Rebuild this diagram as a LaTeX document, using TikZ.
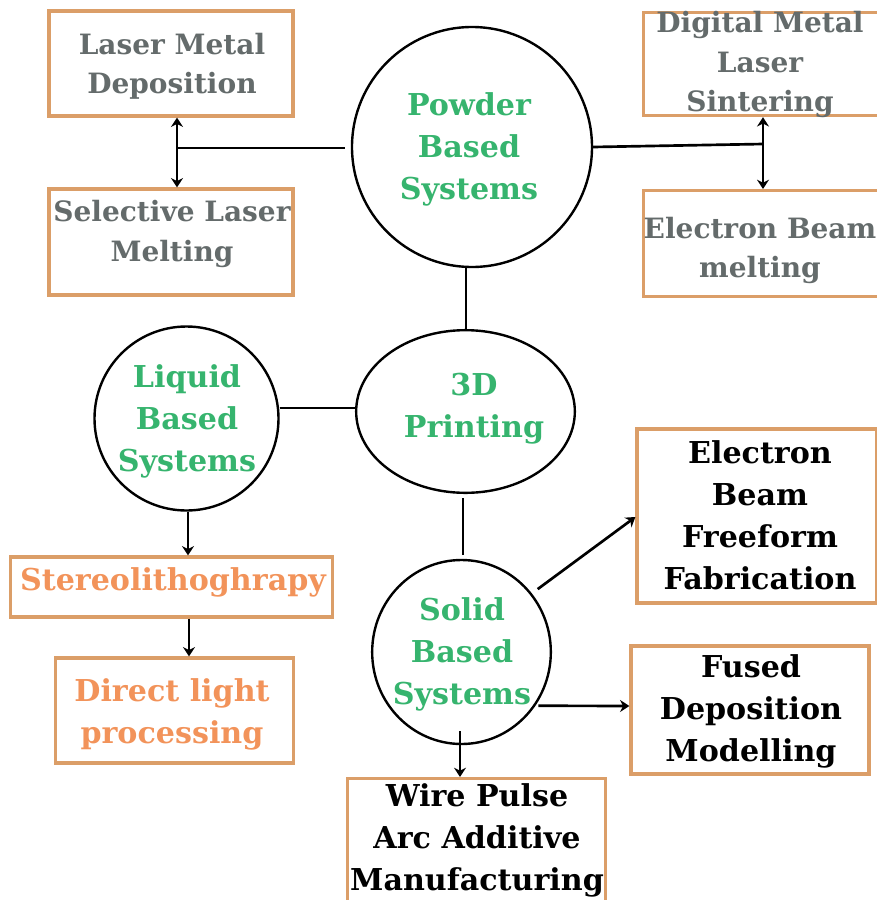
\documentclass[tikz,border=0pt]{standalone}
\usepackage{fontspec}
\setmainfont{DejaVu Serif}
\usetikzlibrary{arrows.meta,shapes.geometric,calc}
\definecolor{boxc}{RGB}{219,158,104}
\definecolor{grayt}{RGB}{100,107,107}
\definecolor{greent}{RGB}{54,180,110}
\definecolor{oranget}{RGB}{242,147,90}
\begin{document}
\begin{tikzpicture}[x=0.75pt,y=-0.75pt,
  boxs/.style={draw=boxc,line width=2.4pt,inner sep=0pt},
  txt/.style={align=center,font=\bfseries\fontsize{22.6}{31.5}\selectfont,inner sep=0pt},
  gtxt/.style={align=center,font=\bfseries\fontsize{21}{29.5}\selectfont,inner sep=0pt,text=grayt},
  ring/.style={draw=black,line width=1.8pt,inner sep=0pt},
  con/.style={draw=black,line width=2pt},
  arr/.style={con,-{Stealth[length=7pt,width=9pt]}},
  darr/.style={con,{Stealth[length=7pt,width=9pt]}-{Stealth[length=7pt,width=9pt]}}]
\useasboundingbox (0,0) rectangle (877,900);
% boxes
\node[boxs,minimum width=183pt,minimum height=78.75pt] (lmd) at (171,63.5) {};
\node[boxs,minimum width=183pt,minimum height=79.5pt] (slm) at (171,242) {};
\node[boxs,minimum width=180pt,minimum height=77.25pt,anchor=north west] (dmls) at (642,11) {};
\node[boxs,minimum width=180pt,minimum height=79.5pt,anchor=north west] (ebm) at (642,189) {};
\node[boxs,minimum width=242pt,minimum height=45pt] (sla) at (171.5,587) {};
\node[boxs,minimum width=179pt,minimum height=78.75pt] (dlp) at (174.5,710.5) {};
\node[boxs,minimum width=180pt,minimum height=130.5pt] (ebff) at (757,516) {};
\node[boxs,minimum width=178.5pt,minimum height=96pt] (fdm) at (750,710) {};
\node[boxs,minimum width=194pt,minimum height=100pt,anchor=north] (wp) at (476.5,777) {};
% circles
\node[ring,circle,minimum size=180pt] (powder) at (472,147) {};
\node[ring,ellipse,minimum width=164pt,minimum height=122pt] (print) at (465.5,411.5) {};
\node[ring,circle,minimum size=138pt] (liquid) at (186.5,418.5) {};
\node[ring,ellipse,minimum width=134pt,minimum height=138pt] (solid) at (461.5,652) {};
% texts
\node[gtxt] (tlmd) at (172,66.5) {Laser Metal\\Deposition};
\node[gtxt] (tslm) at (172,234) {Selective Laser\\Melting};
\node[gtxt] (tdmls) at (760,64.5) {Digital Metal\\Laser\\Sintering};
\node[gtxt] (tebm) at (760,250.5) {Electron Beam\\melting};
\node[txt,text=greent] (tpowder) at (469,149) {Powder\\Based\\Systems};
\node[txt,text=greent] (tprint) at (474,408.5) {3D\\Printing};
\node[txt,text=greent] (tliquid) at (187,421) {Liquid\\Based\\Systems};
\node[txt,text=greent] (tsolid) at (462,654) {Solid\\Based\\Systems};
\node[txt,text=oranget] (tsla) at (173,582) {Stereolithoghrapy};
\node[txt,text=oranget] (tdlp) at (172,714.5) {Direct light\\processing};
\node[txt] (tebff) at (760,515.5) {Electron\\Beam\\Freeform\\Fabrication};
\node[txt] (tfdm) at (751,711) {Fused\\Deposition\\Modelling};
\node[txt] (twp) at (477,840.5) {Wire Pulse\\Arc Additive\\Manufacturing};
% connectors
\coordinate (jl) at (177,148);
\coordinate (jr) at (763,144);
\draw[con] ($(powder.west)+(-6,1)$) -- (jl);
\draw[darr] (lmd.south -| jl) -- (slm.north -| jl);
\draw[con] (powder.east) -- (jr);
\draw[darr] (dmls.south -| jr) -- (ebm.north -| jr);
\draw[con] (powder.south -| 466,0) -- (print.north -| 466,0);
\draw[con] (liquid.east |- 0,408) -- (print.west |- 0,408);
\draw[arr] (liquid.south -| 188,0) -- (sla.north -| 188,0);
\draw[arr] (sla.south -| 189,0) -- (dlp.north -| 189,0);
\draw[con] ($(print.south -| 463,0)+(0,4)$) -- ($(solid.north -| 463,0)+(0,-4)$);
\draw[arr] ($(solid.40)+(6,-4)$) -- (ebff.west |- 0,517);
\draw[arr] ($(solid.-36)+(3,0)$) -- (fdm.west |- 0,706);
\draw[arr] ($(solid.south -| 460,0)+(0,-14)$) -- (wp.north -| 460,0);
\end{tikzpicture}
\end{document}
